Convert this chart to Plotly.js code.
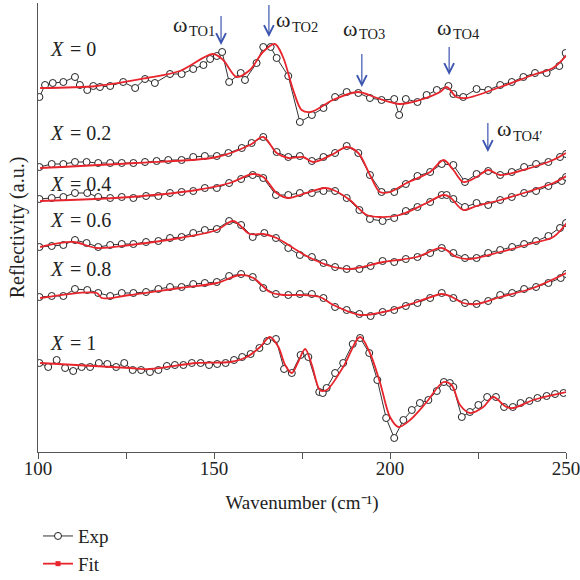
<!DOCTYPE html>
<html><head><meta charset="utf-8">
<script src="https://cdn.plot.ly/plotly-3.0.1.min.js"></script>
<style>body{margin:0;padding:0;background:#fff}#c{width:580px;height:580px}</style>
</head><body><div id="c"></div>
<script>
// ---- X = 0 ----
const x0Exp = [100.4,102.0,104.2,107.2,110.5,111.9,114.0,115.7,117.6,120.5,124.2,127.6,130.4,133.2,137.5,140.8,144.1,147.0,148.9,150.8,152.3,154.3,157.6,158.8,162.1,164.0,166.1,167.8,171.1,174.4,177.8,181.1,184.4,187.7,191.0,194.3,197.6,201.2,202.6,204.5,207.8,210.4,213.3,216.6,218.0,220.8,224.6,227.9,231.3,234.6,237.9,241.2,244.5,248.1,249.9];
const y0Exp = [355,367,369,370,375,367,362,366,365,366,370,364,373,369,378,378,383,387,393,396,400,370,379,372,389,405,405,394,376,330,337,344,355,360,359,354,352,353,337,353,350,357,362,366,358,355,363,362,367,370,375,379,379,386,399];
const x0Fit = [100.6,116.7,130.9,140.3,149.7,152.6,156.4,160.2,163.9,167.3,169.6,172.5,174.9,177.5,183.8,190.9,196.3,202.8,208.5,214.2,216.1,218.9,221.8,231.3,240.6,246.3,250.2];
const y0Fit = [364,366,374,381,398,392,375,382,400,408,395,362,342,340,352,360,354,348,352,360,365,355,354,365,377,384,397];
// ---- X = 0.2 ----
const x02Exp = [100.4,103.9,107.2,110.5,113.8,117.1,120.5,123.8,127.1,130.4,133.7,137.0,140.8,144.1,147.4,150.8,154.1,157.9,160.7,164.0,167.8,171.1,174.4,177.8,181.1,184.4,187.7,191.0,194.3,197.6,201.2,204.5,207.8,211.4,214.7,218.0,221.3,224.6,227.9,231.3,234.6,238.1,241.5,245.0,248.3,250.0];
const y02Exp = [285,288,288,290,290,289,289,289,289,290,291,292,292,295,296,296,299,304,309,315,300,295,296,291,295,299,306,299,277,260,260,268,276,280,288,287,270,278,281,277,280,285,288,290,295,298];
const x02Fit = [100.6,127.6,150.8,160.2,164.0,167.8,171.1,175.3,178.2,183.9,187.7,191.0,194.3,197.1,200.0,204.7,211.4,215.2,218.0,220.8,224.6,227.9,231.3,240.7,246.3,250.0];
const y02Fit = [284,289,295,307,315,299,294,295,290,298,305,299,277,260,260,269,280,292,282,270,275,282,277,285,292,299];
// ---- X = 0.4 ----
const x04Exp = [100.4,103.9,107.2,110.5,114.0,117.1,120.5,123.8,127.1,130.7,134.2,137.5,140.8,144.1,147.4,150.8,154.3,157.7,161.0,164.0,167.6,171.1,174.4,177.8,181.1,184.4,187.7,191.3,194.3,197.9,201.2,204.5,207.8,211.4,214.7,216.1,218.0,221.3,224.6,227.9,231.3,234.6,238.1,241.5,245.0,248.8,250.0];
const y04Exp = [253,254,255,259,259,255,254,255,254,256,256,259,260,261,264,264,269,273,277,274,257,257,259,259,261,261,254,242,233,231,234,241,245,250,257,257,253,245,249,247,252,255,259,261,266,271,275];
const x04Fit = [100.6,126.1,145.1,154.5,161.0,164.0,167.8,171.1,174.4,181.5,183.9,188.6,193.4,197.2,202.8,210.4,215.2,217.0,220.8,224.6,231.3,240.7,246.4,250.2];
const y04Fit = [251,255,262,269,278,275,259,254,257,264,262,252,237,235,237,249,257,255,242,246,252,262,269,276];
// ---- X = 0.6 ----
const x06Exp = [100.4,103.9,107.2,110.5,113.8,117.1,120.5,123.8,127.1,130.7,134.2,137.5,140.8,144.1,147.4,150.8,154.3,157.7,161.0,164.3,167.6,171.1,174.4,177.8,181.1,184.4,187.7,191.3,194.5,197.9,201.2,204.5,207.8,211.4,214.7,218.0,221.3,224.6,227.9,231.3,234.7,238.1,241.5,245.0,248.3,250.0];
const y06Exp = [205,206,207,212,209,205,207,208,208,210,211,214,215,219,222,223,231,227,215,219,214,204,197,195,189,185,183,183,186,191,190,193,195,199,204,199,194,194,199,202,205,208,211,216,224,229];
const x06Fit = [100.6,110.0,116.7,126.1,140.3,150.8,155.5,160.2,164.0,167.8,172.5,176.8,183.9,188.6,198.1,207.6,214.7,218.9,222.7,231.3,240.7,246.4,250.2];
const y06Fit = [205,210,204,207,214,222,231,218,218,214,204,195,185,183,190,195,204,195,193,200,209,215,229];
// ---- X = 0.8 ----
const x08Exp = [100.4,103.9,107.2,110.5,114.0,117.1,120.5,123.8,127.1,130.7,134.2,137.5,140.8,144.1,147.4,150.8,154.3,157.7,161.0,164.0,167.6,171.1,174.4,177.8,181.1,184.4,187.7,191.3,194.5,197.9,201.2,204.5,207.8,211.4,214.7,218.0,221.3,224.6,227.9,231.3,234.7,238.1,241.5,245.0,248.5,250.0];
const y08Exp = [155,156,156,163,162,159,156,159,159,160,163,165,165,168,169,170,176,178,175,164,158,157,158,158,154,145,142,138,136,140,142,146,149,154,159,154,149,148,151,157,159,163,165,169,174,178];
const x08Fit = [100.6,116.7,118.1,126.1,140.3,150.8,157.4,161.2,165.9,169.7,174.4,180.1,183.9,191.5,198.1,207.6,214.7,217.0,220.8,224.6,231.3,240.7,250.2];
const y08Fit = [154,159,154,157,164,169,177,174,160,157,157,155,147,137,140,150,158,156,149,148,155,164,179];
// ---- X = 1 ----
const x1Exp = [100.4,102.9,105.3,107.7,110.0,112.4,114.8,117.3,119.7,122.2,124.5,126.9,129.3,131.8,134.2,136.6,138.9,141.3,143.7,146.2,148.6,150.9,153.3,155.7,158.0,160.4,162.9,165.1,167.6,169.9,172.1,174.6,176.8,179.9,180.9,182.0,184.4,186.7,189.4,191.5,194.1,196.4,198.9,201.2,203.8,206.2,208.5,210.9,213.3,215.3,217.0,218.0,220.4,222.7,225.1,227.6,230.1,232.4,234.9,237.1,239.6,241.9,244.5,246.9,249.3];
const y1Exp = [89,85,92,84,81,85,85,89,88,85,89,82,82,80,82,86,87,87,89,89,87,88,89,92,95,98,104,111,113,83,79,97,95,60,59,64,79,89,108,114,99,72,34,14,32,42,49,52,61,70,69,65,35,40,47,55,55,45,45,49,51,54,56,58,59];
const x1Fit = [100.6,126.1,131.8,145.1,154.5,159.3,163.1,165.9,168.3,170.2,172.1,173.9,175.9,177.8,180.1,182.0,186.7,191.5,194.3,197.2,200.0,202.4,205.7,210.4,215.2,217.5,219.9,222.7,226.5,229.3,233.1,235.0,240.7,250.2];
const y1Fit = [89,84,83,89,90,95,105,115,105,87,79,90,103,87,62,62,85,115,99,69,35,25,32,50,70,67,47,39,45,55,45,44,52,60];

// labels
const compValues = ['= 0','= 0.2','= 0.4','= 0.6','= 0.8','= 1'];
const modeSubs = ['TO1','TO2','TO3','TO4','TO4′'];

const series = [
  [x0Exp,y0Exp,x0Fit,y0Fit],
  [x02Exp,y02Exp,x02Fit,y02Fit],
  [x04Exp,y04Exp,x04Fit,y04Fit],
  [x06Exp,y06Exp,x06Fit,y06Fit],
  [x08Exp,y08Exp,x08Fit,y08Fit],
  [x1Exp,y1Exp,x1Fit,y1Fit]
];

const FONT = 'Liberation Serif, Times New Roman, serif';
const traces = [];
series.forEach((s,i)=>{
  traces.push({x:s[0],y:s[1],type:'scatter',mode:'lines+markers',name:'Exp',showlegend:i===0,legendrank:1,
    line:{color:'#333',width:1},
    marker:{symbol:'circle',size:7,color:'#fff',line:{color:'#222',width:1}}, hoverinfo:'skip'});
});
series.forEach((s,i)=>{
  traces.push({x:s[2],y:s[3],type:'scatter',mode:'lines+markers',name:'Fit',showlegend:i===0,legendrank:2,
    line:{color:'#e8242c',width:1.8,shape:'spline',smoothing:0.9},
    marker:{symbol:'square',size:5,color:'#e8242c'},
    selectedpoints:[], unselected:{marker:{opacity:0}}, hoverinfo:'skip'});
});

const annotations = [];
const lblY = [403,319,268,232,183,109.5];
compValues.forEach((t,i)=>{
  annotations.push({x:102.8,y:lblY[i],xref:'x',yref:'y',text:'X',showarrow:false,xanchor:'left',yanchor:'middle',font:{family:FONT,size:20,color:'#222',style:'italic'}});
  annotations.push({x:108.5,y:lblY[i],xref:'x',yref:'y',text:t,showarrow:false,xanchor:'left',yanchor:'middle',font:{family:FONT,size:20,color:'#222'}});
});
const arrowX = [152.0,165.6,192.0,216.8,227.8];
const arrowY = [407,415,365,377,300];
const arrowLen = [-31,-34,-35,-30,-31];
const splitX = [142.6,171.9,191.0,217.5,234.6];
const omegaY = [428,432.5,424,424.5,324];
const subY = [421,424.7,417.7,418,316];
arrowX.forEach((ax,i)=>{
  annotations.push({x:ax,y:arrowY[i],xref:'x',yref:'y',text:'&nbsp;',font:{size:1},showarrow:true,ax:0,ay:arrowLen[i],
    arrowhead:5,arrowsize:1.6,arrowwidth:1.2,arrowcolor:'#3d56b0'});
  annotations.push({x:splitX[i],y:omegaY[i],xref:'x',yref:'y',text:'ω',showarrow:false,xanchor:'right',yanchor:'middle',xshift:1,font:{family:FONT,size:22,color:'#222'}});
  annotations.push({x:splitX[i],y:subY[i],xref:'x',yref:'y',text:modeSubs[i],showarrow:false,xanchor:'left',yanchor:'middle',xshift:-1,font:{family:FONT,size:14.5,color:'#222'}});
});

const layout = {
  width:580,height:580,
  margin:{l:38,r:14,t:3,b:128,autoexpand:false},
  paper_bgcolor:'#fff',plot_bgcolor:'#fff',
  font:{family:FONT,size:18,color:'#222'},
  xaxis:{range:[100,250],dtick:50,tick0:100,ticks:'outside',ticklen:6,tickcolor:'#555',showline:true,linecolor:'#555',linewidth:1.2,
    minor:{dtick:25,tick0:100,ticks:'outside',ticklen:6,tickcolor:'#555',showgrid:false},
    ticklabelstandoff:-7, ticklabeloverflow:'allow',
    showgrid:false,zeroline:false,tickfont:{family:FONT,size:19,color:'#222'},
    title:{text:'Wavenumber (cm⁻¹)',font:{family:FONT,size:19,color:'#222'},standoff:17}},
  xaxis2:{range:[100,250],overlaying:'x',side:'top',anchor:'y',dtick:15,tick0:100,ticks:'inside',ticklen:5,tickcolor:'#555',showticklabels:false,showline:true,linecolor:'#555',linewidth:1.2,showgrid:false,zeroline:false},
  yaxis:{range:[0,449],showline:true,linecolor:'#555',linewidth:1.2,ticks:'',showticklabels:false,showgrid:false,zeroline:false,
    title:{text:'Reflectivity (a.u.)',font:{family:FONT,size:20,color:'#222'},standoff:6}},
  yaxis2:{range:[0,449],overlaying:'y',side:'right',anchor:'x',dtick:44.9,tick0:0,ticks:'inside',ticklen:5,tickcolor:'#555',showticklabels:false,showline:true,linecolor:'#555',linewidth:1.2,showgrid:false,zeroline:false},
  showlegend:true,
  legend:{x:0,y:-0.145,xanchor:'left',yanchor:'top',font:{family:FONT,size:19,color:'#222'},bgcolor:'rgba(0,0,0,0)',tracegroupgap:0},
  annotations:annotations
};
Plotly.newPlot('c',traces,layout,{displayModeBar:false,staticPlot:true});
</script>
</body></html>
